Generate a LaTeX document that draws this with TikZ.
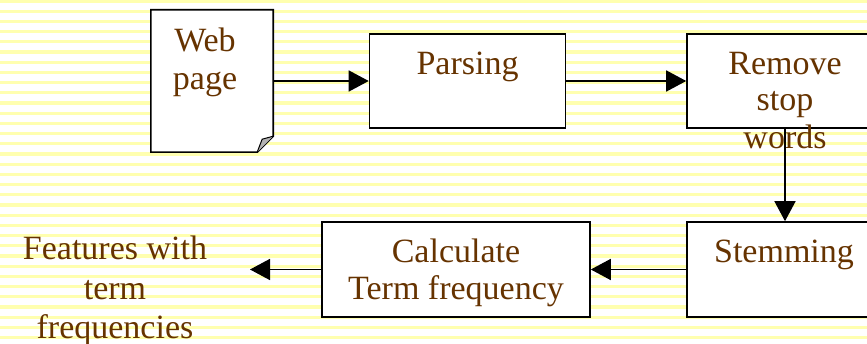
\documentclass[tikz,border=0pt]{standalone}
\usepackage{fontspec}
\setmainfont{Liberation Serif}
\usetikzlibrary{arrows.meta}
\definecolor{inkbrown}{RGB}{102,51,0}
\definecolor{stripe}{RGB}{255,255,175}
\tikzset{
  procbox/.style={draw=black, fill=white, line width=1.6pt, minimum width=196pt, minimum height=94pt, inner sep=0pt},
  lbl/.style={text=inkbrown, font=\fontsize{34}{38}\selectfont, inner sep=0pt, anchor=base},
  flow/.style={line width=1.6pt, -{Triangle[length=20pt,width=21pt]}},
}
\begin{document}
\begin{tikzpicture}[x=1pt, y=-1pt]
  % page and striped backdrop
  \useasboundingbox (0,0) rectangle (867,344);
  \clip (0,0) rectangle (867,344);
  \fill[white] (0,0) rectangle (867,344);
  \foreach \k in {0,...,34} {
    \fill[stripe] (0,{1+10.2*\k-1.6}) rectangle (867,{1+10.2*\k+1.6});
  }

  % document shape with folded corner
  \node[minimum width=122pt, minimum height=142pt, inner sep=0pt] (web) at (212,81) {};
  \draw[line width=1.6pt, fill=white]
    (web.north west) -- (web.north east) -- ([yshift=16pt]web.south east)
    -- ([xshift=-16pt]web.south east) -- (web.south west) -- cycle;
  \draw[line width=1pt, fill=black!30]
    ([xshift=-16pt]web.south east) .. controls ([xshift=-13pt,yshift=8pt]web.south east) .. ([xshift=-11pt,yshift=13pt]web.south east)
    .. controls ([xshift=-6pt,yshift=14pt]web.south east) .. ([yshift=16pt]web.south east);
  \node[lbl] (webA) at (205,52) {Web};
  \node[lbl] (webB) at (205,90) {page};

  % processing steps
  \node[procbox] (parse) at (467.5,81) {};
  \node[lbl] (parseT) at (467.5,75) {Parsing};

  \node[procbox] (stop) at (785,81) {};
  \node[lbl] (stopA) at (785,75) {Remove};
  \node[lbl] (stopB) at (785,111) {stop};
  \node[lbl] (stopC) at (785,149) {words};

  \node[procbox, minimum height=95pt] (stem) at (785,269.5) {};
  \node[lbl] (stemT) at (784,263) {Stemming};

  \node[procbox, minimum width=268pt, minimum height=95pt] (calc) at (456,269.5) {};
  \node[lbl] (calcA) at (456,263) {Calculate};
  \node[lbl] (calcB) at (456,300) {Term frequency};

  % output
  \coordinate (out) at (250,269.5);
  \node[lbl] (featA) at (115,260) {Features with};
  \node[lbl] (featB) at (115,300) {term};
  \node[lbl] (featC) at (115,338) {frequencies};

  % connectors
  \draw[flow] (web.east) -- (parse.west);
  \draw[flow] (parse.east) -- (stop.west);
  \draw[flow] (stop.south) -- (stem.north);
  \draw[flow] (stem.west) -- (calc.east);
  \draw[flow] (calc.west) -- (out);
\end{tikzpicture}
\end{document}
